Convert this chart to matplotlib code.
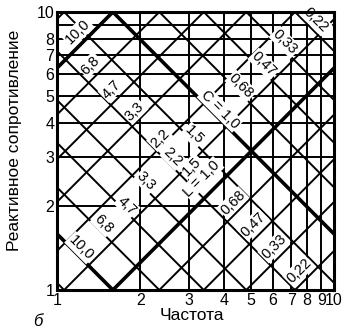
import numpy as np
import matplotlib
matplotlib.use("Agg")
import matplotlib.pyplot as plt

plt.rcParams['font.family'] = ['Liberation Sans Narrow', 'Liberation Sans', 'DejaVu Sans']

# Nominal values (E6 series) for the diagonal families
nominals = [15.0, 10.0, 6.8, 4.7, 3.3, 2.2, 1.5, 1.0, 0.68, 0.47, 0.33, 0.22]
bold_nominals = [10.0, 1.0]

# Scale factors of the two diagonal families
k_fall = 100.0 / (2 * np.pi)   # falling lines: X * f = k_fall / v
k_rise = 2 * np.pi / 10.0      # rising lines:  X / f = k_rise * v

# Grid
freq_ticks = [1, 2, 3, 4, 5, 6, 7, 8, 9, 10]
freq_labels = ['1', '2', '3', '4', '5', '6', '7', '8', '9', '10']
x_ticks = [1, 2, 3, 4, 5, 6, 7, 8, 9, 10]
x_labels = ['1', '2', '3', '4', '5', '6', '7', '8', '', '10']
# right end of each horizontal rule (the X = 2 rule stops at the 0,68 label)
x_rule_end = [10, 4.3, 10, 10, 10, 10, 10, 10, 10, 10]

# Capacitance labels: text, frequency, reactance, rotation
c_text = ['10,0', '6,8', '4,7', '3,3', '2,2', '1,5', 'C = 1,0', '0,68', '0,47', '0,33', '0,22']
c_f = [1.19, 1.32, 1.57, 1.91, 2.35, 3.12, 3.88, 4.62, 5.59, 6.66, 8.61]
c_x = [8.47, 6.44, 5.27, 4.39, 3.51, 3.60, 4.47, 5.41, 6.49, 7.79, 9.36]
c_rot = [45, 45, 45, 45, 45, -45, -45, -45, -45, -45, -45]

# Inductance labels
l_text = ['10,0', '6,8', '4,7', '3,3', '2,2', '1,5', 'L = 1,0', '0,68', '0,47', '0,33', '0,22']
l_f = [1.22, 1.47, 1.79, 2.10, 2.62, 3.07, 3.34, 4.32, 5.10, 6.07, 7.47]
l_x = [1.42, 1.73, 2.01, 2.46, 3.00, 2.78, 2.52, 2.06, 1.72, 1.43, 1.17]
l_rot = [-45, -45, -45, -45, -45, 45, 45, 45, 45, 45, 45]

fig = plt.figure(figsize=(3.5, 3.33), dpi=100)
ax = fig.add_axes([57 / 350, 1 - 290 / 333, 277 / 350, 278 / 333])
ax.set_xscale('log')
ax.set_yscale('log')
ax.set_xlim(1, 10)
ax.set_ylim(1, 10)

ax.set_xticks(freq_ticks)
ax.set_xticklabels(freq_labels)
ax.set_yticks(x_ticks)
ax.set_yticklabels(x_labels)
ax.minorticks_off()
ax.tick_params(length=0, labelsize=11.5, pad=2)

for v in freq_ticks:
    ax.axvline(v, color='black', lw=1.4, zorder=1)
for v, end in zip(x_ticks, x_rule_end):
    ax.hlines(v, 1, end, color='black', lw=1.4, zorder=1)

f = np.array([1.0, 10.0])
for v in nominals:
    lw = 2.6 if v in bold_nominals else 1.4
    ax.plot(f, k_fall / v / f, color='black', lw=lw, zorder=2, clip_on=True)
    ax.plot(f, k_rise * v * f, color='black', lw=lw, zorder=2, clip_on=True)

box = dict(facecolor='white', edgecolor='none', pad=0.8)
for t, fx, xx, r in zip(c_text, c_f, c_x, c_rot):
    ax.text(fx, xx, t, rotation=r, fontsize=10.5, ha='center', va='center',
            rotation_mode='anchor', bbox=box, zorder=4)
for t, fx, xx, r in zip(l_text, l_f, l_x, l_rot):
    ax.text(fx, xx, t, rotation=r, fontsize=10.5, ha='center', va='center',
            rotation_mode='anchor', bbox=box, zorder=4)

for s in ax.spines.values():
    s.set_linewidth(2.2)
    s.set_zorder(5)

fig.text(15 / 350, 1 - 140 / 333, 'Реактивное сопротивление', fontsize=12.5,
         rotation=90, ha='center', va='center')
fig.text(192 / 350, 1 - 316 / 333, 'Частота', fontsize=12.5,
         ha='center', va='center')
fig.text(38 / 350, 1 - 322 / 333, 'б', fontsize=12, style='italic',
         ha='center', va='center')

fig.savefig('out.png', dpi=100)
